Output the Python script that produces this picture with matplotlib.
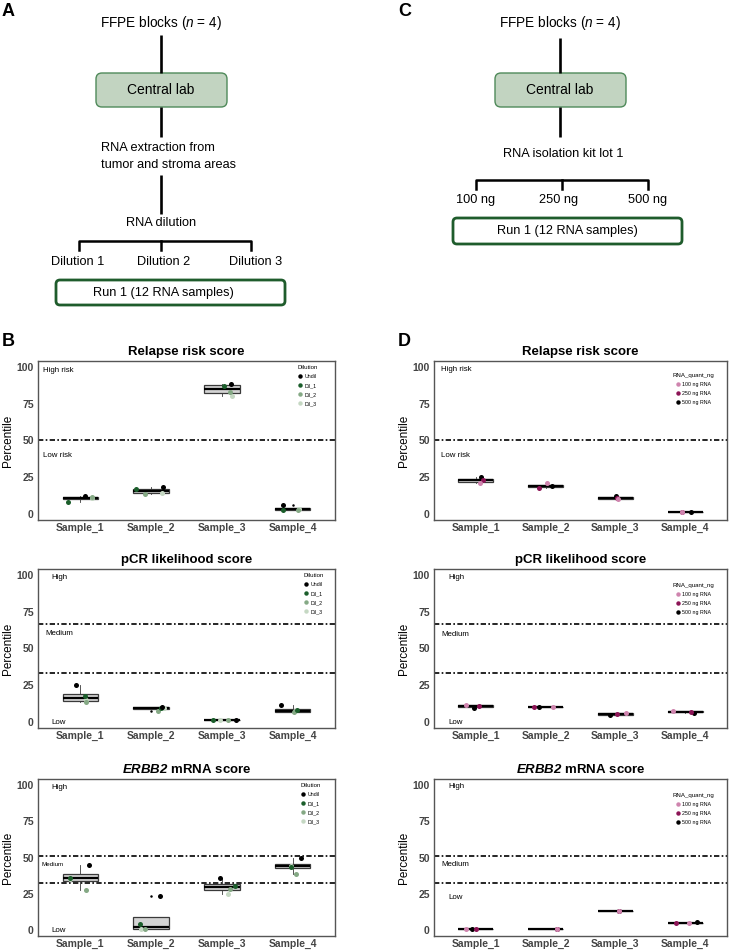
import matplotlib
matplotlib.use("Agg")
import matplotlib.pyplot as plt
from matplotlib.patches import FancyBboxPatch
from matplotlib.lines import Line2D

plt.rcParams['font.family'] = ['Liberation Sans', 'DejaVu Sans']
plt.rcParams['mathtext.fontset'] = 'custom'
plt.rcParams['mathtext.rm'] = 'Liberation Sans'
plt.rcParams['mathtext.it'] = 'Liberation Sans:italic'
plt.rcParams['mathtext.bf'] = 'Liberation Sans:bold'
plt.rcParams['mathtext.bfit'] = 'Liberation Sans:italic:bold'

# ---------------- data ----------------
samples = ["Sample_1", "Sample_2", "Sample_3", "Sample_4"]
yticks = [0, 25, 50, 75, 100]

dilution_levels = ["Undil", "Dil_1", "Dil_2", "Dil_3"]
quant_levels = ["100 ng RNA", "250 ng RNA", "500 ng RNA"]

# Panel B (dilution experiment), one list per dilution level, per sample
relapse_undil = [12.4, 18.5, 88.5, 6.4]
relapse_dil1 = [8.4, 16.8, 87.0, 3.1]
relapse_dil2 = [11.3, 13.9, 83.0, 3.0]
relapse_dil3 = [10.9, 14.6, 80.0, 3.2]

pcr_undil = [25.3, 10.3, 1.2, 11.3]
pcr_dil1 = [17.4, 9.6, 1.2, 8.1]
pcr_dil2 = [13.6, 7.5, 1.2, 6.8]
pcr_dil3 = [14.8, 9.8, 1.2, 7.3]

erbb2_undil = [45.0, 23.8, 36.2, 50.0]
erbb2_dil1 = [36.2, 4.1, 30.7, 43.8]
erbb2_dil2 = [27.7, 0.9, 28.2, 38.5]
erbb2_dil3 = [35.5, 0.9, 25.2, 44.2]

# Panel D (RNA input experiment)
relapse_100 = [20.9, 20.9, 10.0, 1.1]
relapse_250 = [23.2, 17.7, 11.1, 1.1]
relapse_500 = [25.0, 18.8, 12.5, 1.1]

pcr_100 = [11.7, 10.3, 6.3, 7.6]
pcr_250 = [11.0, 10.3, 5.5, 7.0]
pcr_500 = [9.9, 10.1, 4.5, 6.1]

erbb2_100 = [0.7, 0.7, 13.0, 4.6]
erbb2_250 = [0.7, 0.7, 13.0, 4.6]
erbb2_500 = [0.7, 0.7, 13.0, 5.5]

# thresholds
relapse_cut = [50]
pcr_cut = [33.3, 66.7]
erbb2_cut = [32.5, 51]

# ---------------- layout / style ----------------
dil_colors = ["#000000", "#1b5e2b", "#85a985", "#c5d8c3"]
quant_colors = ["#cf84ae", "#8c1456", "#000000"]

# horizontal jitter offsets (layout), per level, per sample
jit_rel_B = [[0.07, 0.17, 0.13, -0.14], [-0.18, -0.21, 0.03, -0.14],
             [0.17, -0.08, 0.11, 0.08], [0.16, 0.16, 0.14, 0.09]]
jit_pcr_B = [[-0.06, 0.15, 0.20, -0.16], [0.06, 0.14, -0.13, 0.06],
             [0.08, 0.10, 0.09, 0.02], [0.08, 0.18, -0.02, 0.04]]
jit_erb_B = [[0.12, 0.13, -0.03, 0.12], [-0.15, -0.16, 0.19, -0.02],
             [0.08, -0.08, 0.11, 0.05], [-0.15, -0.15, 0.08, -0.02]]
jit_rel_D = [[0.06, 0.02, 0.04, -0.05], [0.10, -0.09, 0.02, -0.05],
             [0.07, 0.09, 0.01, 0.09]]
jit_pcr_D = [[-0.14, 0.10, 0.15, -0.18], [0.05, -0.17, 0.03, 0.08],
             [-0.02, -0.09, -0.08, 0.13]]
jit_erb_D = [[-0.14, 0.17, 0.05, 0.05], [0.0, 0.17, 0.05, -0.13],
             [-0.05, 0.17, 0.05, 0.17]]

W, H = 731, 950
fig = plt.figure(figsize=(W / 100, H / 100), dpi=100)

def ax_rect(left, top, right, bottom):
    return [left / W, 1 - bottom / H, (right - left) / W, (bottom - top) / H]

# ---------------- flowcharts (overlay in pixel coords) ----------------
ov = fig.add_axes([0, 0, 1, 1])
ov.set_xlim(0, W)
ov.set_ylim(H, 0)
ov.axis('off')

fs_flow = 9.2
line_kw = dict(color='black', lw=1.9, solid_capstyle='butt')

def rbox(x0, y0, x1, y1, fc, ec, lw, r):
    ov.add_patch(FancyBboxPatch((x0, y0), x1 - x0, y1 - y0,
                                boxstyle=f"round,pad=0,rounding_size={r}",
                                fc=fc, ec=ec, lw=lw))

# Panel A
ov.text(2, 11, "A", fontsize=13, fontweight='bold', va='center', ha='left')
ov.text(161, 23, r"FFPE blocks ($\mathit{n}$ = 4)", fontsize=9.8, ha='center', va='center')
ov.plot([161, 161], [35, 73], **line_kw)
rbox(96, 73, 227, 107, "#c2d4c1", "#4f8a5a", 1.0, 6)
ov.text(161, 90, "Central lab", fontsize=10, ha='center', va='center')
ov.plot([161, 161], [107, 137], **line_kw)
ov.text(101, 148, "RNA extraction from", fontsize=fs_flow, ha='left', va='center')
ov.text(101, 165, "tumor and stroma areas", fontsize=fs_flow, ha='left', va='center')
ov.plot([161, 161], [175, 214], **line_kw)
ov.text(161, 223, "RNA dilution", fontsize=fs_flow, ha='center', va='center')
ov.plot([79, 79, 251, 251], [250, 241, 241, 250], color='black', lw=1.8)
ov.plot([161, 161], [241, 250], color='black', lw=1.8)
for xx, lab in zip([78, 164, 256], ["Dilution 1", "Dilution 2", "Dilution 3"]):
    ov.text(xx, 262, lab, fontsize=fs_flow, ha='center', va='center')
rbox(56, 280, 285, 305, "white", "#1f5c2c", 2.0, 4)
ov.text(163, 293, "Run 1 (12 RNA samples)", fontsize=fs_flow, ha='center', va='center')

# Panel C
ov.text(398, 11, "C", fontsize=13, fontweight='bold', va='center', ha='left')
ov.text(560, 23, r"FFPE blocks ($\mathit{n}$ = 4)", fontsize=9.8, ha='center', va='center')
ov.plot([560, 560], [38, 73], **line_kw)
rbox(495, 73, 626, 107, "#c2d4c1", "#4f8a5a", 1.0, 6)
ov.text(560, 90, "Central lab", fontsize=10, ha='center', va='center')
ov.plot([560, 560], [107, 137], **line_kw)
ov.text(563, 154, "RNA isolation kit lot 1", fontsize=fs_flow, ha='center', va='center')
ov.plot([476, 476, 648, 648], [189, 180, 180, 189], color='black', lw=1.8)
ov.plot([562, 562], [180, 189], color='black', lw=1.8)
for xx, lab in zip([476, 559, 648], ["100 ng", "250 ng", "500 ng"]):
    ov.text(xx, 200, lab, fontsize=fs_flow, ha='center', va='center')
rbox(453, 218, 682, 244, "white", "#1f5c2c", 2.0, 4)
ov.text(567, 231, "Run 1 (12 RNA samples)", fontsize=fs_flow, ha='center', va='center')

ov.text(2, 342, "B", fontsize=13, fontweight='bold', va='center', ha='left')
ov.text(398, 342, "D", fontsize=13, fontweight='bold', va='center', ha='left')

# ---------------- score panels ----------------
dash = (0, (3.2, 1.4, 1.0, 1.4))

def panel(rect, series, colors, jitter, cuts, regions, title, leg_title,
          leg_labels, leg_anchor):
    ax = fig.add_axes(rect)
    pos = [1, 2, 3, 4]
    per_sample = [[s[i] for s in series] for i in range(4)]
    ax.boxplot(per_sample, positions=pos, widths=0.5, patch_artist=True,
               whis=1.5, manage_ticks=False,
               boxprops=dict(facecolor='#d4d4d4', edgecolor='#3a3a3a', lw=0.9),
               medianprops=dict(color='black', lw=1.6),
               whiskerprops=dict(color='#3a3a3a', lw=0.6),
               capprops=dict(lw=0), capwidths=0,
               flierprops=dict(marker='o', markersize=1.8, mfc='black',
                               mec='black', mew=0), zorder=2)
    order = list(range(len(series)))[::-1]
    for k in order:
        xs = [p + j for p, j in zip(pos, jitter[k])]
        ax.scatter(xs, series[k], s=13, color=colors[k], zorder=3,
                   linewidths=0)
    for c in cuts:
        ax.axhline(c, color='black', lw=1.2, ls=dash, zorder=1)
    for (tx, ty, txt, fs) in regions:
        ax.text(tx, ty, txt, fontsize=fs, ha='left', va='center')
    ax.set_xlim(0.4, 4.6)
    ax.set_ylim(-4, 104)
    ax.set_xticks(pos)
    ax.set_xticklabels(samples)
    ax.set_yticks(yticks)
    ax.set_yticklabels([str(v) for v in yticks])
    ax.tick_params(axis='y', length=0, pad=3, labelsize=7.5, labelcolor='#444444')
    ax.tick_params(axis='x', length=0, pad=2, labelsize=7.5, labelcolor='#444444')
    for lab in ax.get_xticklabels() + ax.get_yticklabels():
        lab.set_fontweight('bold')
    for sp in ax.spines.values():
        sp.set_color('#555555')
        sp.set_linewidth(1.0)
    ax.set_ylabel("Percentile", fontsize=8.5, labelpad=2)
    ax.set_title(title, fontsize=9.5, fontweight='bold', pad=4)
    handles = [Line2D([], [], marker='o', ls='', color=c, markersize=3.2,
                      mew=0) for c in colors]
    ax.legend(handles, leg_labels, title=leg_title, loc='upper right',
              bbox_to_anchor=leg_anchor, frameon=False, fontsize=3.8,
              title_fontsize=4.4, borderpad=0, labelspacing=0.75,
              handletextpad=0.4, handlelength=1.0)
    return ax

colB = (38, 335)
colD = (434, 727)
rows = [(361, 520), (569, 728), (779, 936)]

erbb2_title = r"$\mathbfit{ERBB2}$ mRNA score"

panel(ax_rect(colB[0], rows[0][0], colB[1], rows[0][1]),
      [relapse_undil, relapse_dil1, relapse_dil2, relapse_dil3],
      dil_colors, jit_rel_B, relapse_cut,
      [(0.47, 97.5, "High risk", 5.7), (0.47, 40, "Low risk", 5.7)],
      "Relapse risk score", "Dilution", dilution_levels, (0.95, 0.99))
panel(ax_rect(colB[0], rows[1][0], colB[1], rows[1][1]),
      [pcr_undil, pcr_dil1, pcr_dil2, pcr_dil3],
      dil_colors, jit_pcr_B, pcr_cut,
      [(0.59, 98, "High", 5.7), (0.51, 60, "Medium", 5.7), (0.59, 0, "Low", 5.7)],
      "pCR likelihood score", "Dilution", dilution_levels, (0.97, 0.99))
panel(ax_rect(colB[0], rows[2][0], colB[1], rows[2][1]),
      [erbb2_undil, erbb2_dil1, erbb2_dil2, erbb2_dil3],
      dil_colors, jit_erb_B, erbb2_cut,
      [(0.59, 98, "High", 5.7), (0.45, 45.5, "Medium", 4.5), (0.59, 0, "Low", 5.7)],
      erbb2_title, "Dilution", dilution_levels, (0.96, 0.99))

panel(ax_rect(colD[0], rows[0][0], colD[1], rows[0][1]),
      [relapse_100, relapse_250, relapse_500],
      quant_colors, jit_rel_D, relapse_cut,
      [(0.5, 98.5, "High risk", 5.7), (0.5, 39.5, "Low risk", 5.7)],
      "Relapse risk score", "RNA_quant_ng", quant_levels, (0.965, 0.94))
panel(ax_rect(colD[0], rows[1][0], colD[1], rows[1][1]),
      [pcr_100, pcr_250, pcr_500],
      quant_colors, jit_pcr_D, pcr_cut,
      [(0.6, 98.5, "High", 5.7), (0.5, 59.5, "Medium", 5.7), (0.6, 0, "Low", 5.7)],
      "pCR likelihood score", "RNA_quant_ng", quant_levels, (0.965, 0.93))
panel(ax_rect(colD[0], rows[2][0], colD[1], rows[2][1]),
      [erbb2_100, erbb2_250, erbb2_500],
      quant_colors, jit_erb_D, erbb2_cut,
      [(0.6, 98.5, "High", 5.7), (0.5, 45, "Medium", 5.7), (0.6, 22.5, "Low", 5.7)],
      erbb2_title, "RNA_quant_ng", quant_levels, (0.965, 0.93))

fig.savefig("out.png", dpi=100)
